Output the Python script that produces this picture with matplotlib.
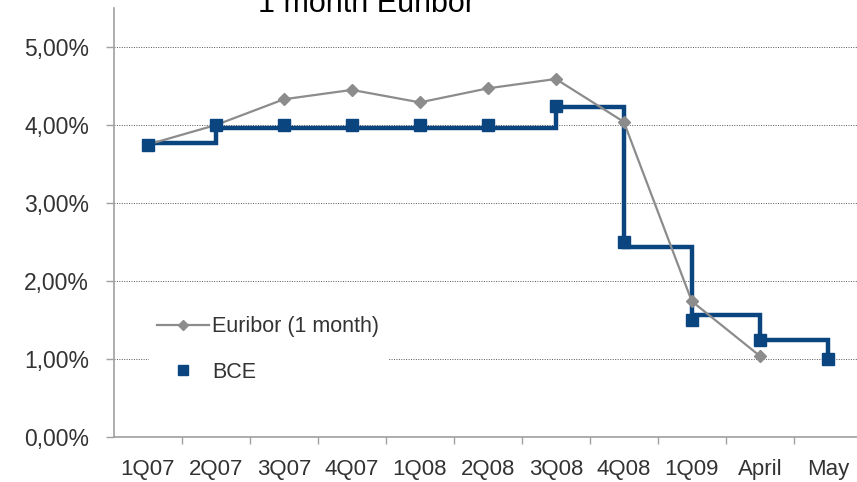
import matplotlib
matplotlib.use("Agg")
import matplotlib.pyplot as plt
from matplotlib.ticker import FuncFormatter, FixedLocator

plt.rcParams['font.family'] = ['Liberation Sans', 'DejaVu Sans']

# --- data ---
categories = ['1Q07', '2Q07', '3Q07', '4Q07', '1Q08', '2Q08', '3Q08', '4Q08', '1Q09', 'April', 'May']
euribor = [3.75, 4.00, 4.33, 4.45, 4.29, 4.47, 4.59, 4.04, 1.74, 1.04]
bce = [3.75, 4.00, 4.00, 4.00, 4.00, 4.00, 4.25, 2.50, 1.50, 1.25, 1.00]
bce_step = [3.77, 3.96, 3.96, 3.96, 3.96, 3.96, 4.23, 2.44, 1.56, 1.24, 1.00]
yticks = [0, 1, 2, 3, 4, 5]

text_col = '#333333'
grey = '#8c8c8c'
blue = '#0b4580'

fig = plt.figure(figsize=(8.57, 4.82), dpi=100)
ax = fig.add_axes([114 / 857, 45 / 482, 1 - 114 / 857, 429 / 482])

x = list(range(len(categories)))

# step line of the ECB rate
ax.step(x, bce_step, where='post', color=blue, lw=3.2, zorder=2, solid_joinstyle='miter')
# euribor
ax.plot(x[:len(euribor)], euribor, color=grey, lw=1.6, marker='D', markersize=6,
        markerfacecolor=grey, markeredgecolor=grey, zorder=3, label='Euribor (1 month)')
# BCE markers
ax.plot(x, bce, ls='none', marker='s', markersize=8.5, color=blue, zorder=4, label='BCE')

ax.set_xlim(-0.5, 10.43)
ax.set_ylim(0, 5.5)

ax.set_yticks(yticks)
ax.yaxis.set_major_formatter(FuncFormatter(lambda v, p: f'{v:.2f}%'.replace('.', ',')))
ax.set_xticks(x)
ax.set_xticklabels(categories)
ax.xaxis.set_minor_locator(FixedLocator([i + 0.5 for i in range(len(categories) - 1)]))

ax.tick_params(axis='x', which='major', length=0, pad=16, labelsize=16, labelcolor=text_col)
ax.tick_params(axis='x', which='minor', length=5, width=1, color='#a0a0a0', direction='out')
ax.tick_params(axis='y', length=6, width=1, color='#a0a0a0', pad=12, labelsize=16.5,
               labelcolor=text_col)

ax.grid(axis='y', color='#555555', linestyle=(0, (1, 1.5)), linewidth=0.7, zorder=0)
ax.set_axisbelow(True)

for s in ['top', 'right']:
    ax.spines[s].set_visible(False)
for s in ['left', 'bottom']:
    ax.spines[s].set_color('#a0a0a0')
    ax.spines[s].set_linewidth(1.2)

leg = ax.legend(loc='upper left', bbox_to_anchor=(0.032, 0.327), fontsize=15.5,
                frameon=True, fancybox=False, framealpha=1, edgecolor='none',
                facecolor='white', labelspacing=1.15, handlelength=2.4,
                handletextpad=0.15, borderpad=0.4, markerscale=0.8)
for t in leg.get_texts():
    t.set_color(text_col)

fig.text(367 / 857, 1 - 12 / 482, '1 month Euribor', ha='center', va='baseline',
         fontsize=22, color='black')

fig.savefig('out.png', dpi=100)
